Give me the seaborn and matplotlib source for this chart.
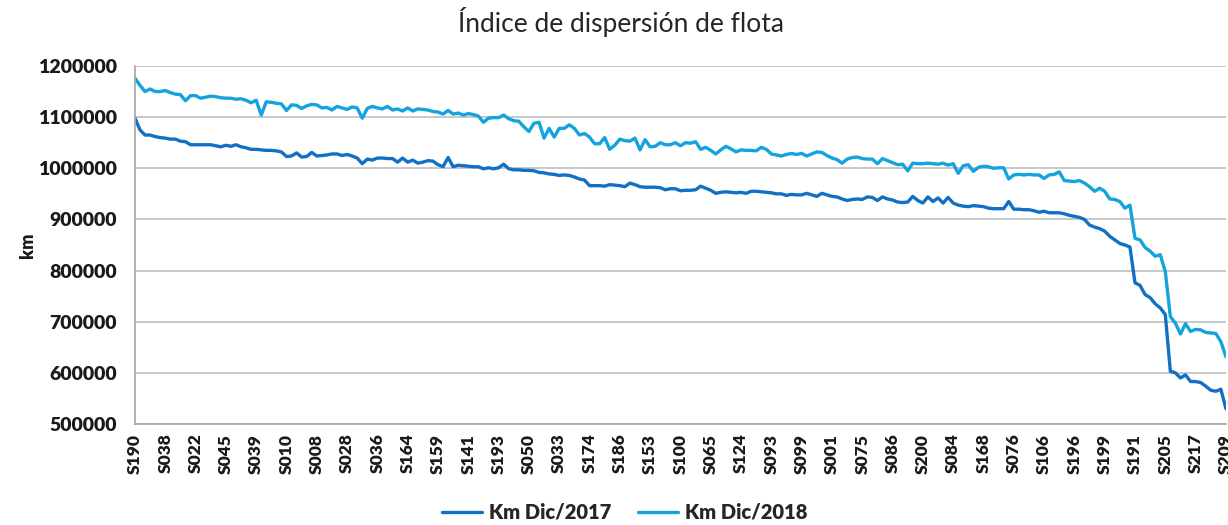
import pandas as pd
import numpy as np
import matplotlib.pyplot as plt
import seaborn as sns

# Etiquetas visibles del eje x (una cada 6 puntos)
etiquetas = ['S190', 'S038', 'S022', 'S045', 'S039', 'S010', 'S008', 'S028', 'S036',
             'S164', 'S159', 'S141', 'S193', 'S050', 'S033', 'S174', 'S186', 'S153',
             'S100', 'S065', 'S124', 'S093', 'S099', 'S001', 'S075', 'S086', 'S200',
             'S084', 'S168', 'S076', 'S106', 'S196', 'S199', 'S191', 'S205', 'S217', 'S209']

# km en miles
km_2017 = [1098, 1075, 1065, 1065, 1062, 1060, 1059, 1057, 1057, 1053,
           1052, 1046, 1046, 1046, 1046, 1046, 1044, 1042, 1045, 1043,
           1046, 1042, 1040, 1037, 1037, 1036, 1035, 1035, 1034, 1032,
           1023, 1024, 1030, 1022, 1023, 1031, 1024, 1025, 1026, 1028,
           1028, 1025, 1027, 1024, 1020, 1009, 1018, 1016, 1020, 1020,
           1019, 1019, 1012, 1020, 1012, 1016, 1010, 1012, 1015, 1014,
           1007, 1003, 1021, 1003, 1006, 1005, 1004, 1003, 1003, 999,
           1001, 999, 1001, 1008, 999, 997, 997, 996, 996, 995,
           992, 991, 989, 988, 986, 987, 986, 983, 979, 977,
           966, 966, 966, 965, 968, 967, 966, 964, 971, 968,
           964, 963, 963, 963, 962, 958, 960, 960, 956, 957,
           957, 958, 965, 961, 957, 951, 953, 954, 953, 952,
           953, 951, 955, 955, 954, 953, 952, 950, 950, 947,
           949, 948, 948, 951, 948, 945, 951, 948, 945, 944,
           940, 937, 939, 940, 939, 944, 943, 937, 944, 940,
           938, 934, 933, 934, 945, 937, 932, 944, 935, 942,
           932, 943, 932, 928, 926, 925, 927, 926, 925, 922,
           921, 921, 921, 935, 920, 920, 919, 919, 917, 914,
           916, 913, 913, 913, 911, 908, 906, 904, 900, 889,
           885, 882, 877, 867, 860, 853, 850, 846, 776, 771,
           753, 747, 735, 727, 714, 603, 600, 590, 596, 583,
           583, 581, 574, 566, 564, 568, 530]

km_2018 = [1176, 1162, 1150, 1155, 1150, 1150, 1152, 1148, 1145, 1144,
           1132, 1142, 1142, 1137, 1139, 1141, 1140, 1138, 1137, 1137,
           1135, 1136, 1133, 1128, 1133, 1104, 1130, 1129, 1127, 1126,
           1113, 1124, 1123, 1117, 1122, 1125, 1124, 1118, 1119, 1114,
           1121, 1118, 1115, 1120, 1118, 1098, 1117, 1121, 1118, 1116,
           1121, 1114, 1116, 1112, 1118, 1112, 1116, 1115, 1114, 1111,
           1110, 1106, 1113, 1106, 1108, 1104, 1107, 1105, 1102, 1090,
           1098, 1099, 1099, 1104, 1097, 1093, 1092, 1081, 1072, 1088,
           1090, 1059, 1078, 1061, 1078, 1078, 1085, 1078, 1065, 1068,
           1061, 1048, 1048, 1060, 1037, 1045, 1057, 1054, 1053, 1059,
           1036, 1056, 1042, 1043, 1050, 1046, 1046, 1050, 1044, 1050,
           1049, 1052, 1037, 1041, 1035, 1028, 1036, 1043, 1038, 1032,
           1036, 1035, 1035, 1034, 1041, 1037, 1028, 1026, 1024, 1027,
           1029, 1027, 1029, 1024, 1028, 1032, 1031, 1025, 1020, 1017,
           1010, 1018, 1021, 1022, 1019, 1018, 1018, 1009, 1019, 1015,
           1011, 1007, 1008, 995, 1010, 1009, 1009, 1010, 1009, 1008,
           1010, 1006, 1009, 990, 1005, 1007, 994, 1002, 1004, 1003,
           1000, 1001, 1001, 979, 987, 988, 987, 988, 987, 987,
           980, 987, 988, 993, 976, 975, 974, 976, 971, 964,
           955, 961, 955, 940, 939, 935, 922, 928, 863, 860,
           845, 838, 828, 831, 798, 710, 697, 676, 696, 681,
           685, 684, 679, 678, 677, 661, 632]

series = ['Km Dic/2017', 'Km Dic/2018']
colores = ['#1170C4', '#13A3DD']

n = len(km_2017)
df = pd.DataFrame({'punto': list(range(n)) * 2,
                   'km': [v * 1000 for v in km_2017 + km_2018],
                   'serie': [series[0]] * n + [series[1]] * n})

sns.set_theme(style='white')
plt.rcParams['font.family'] = ['Lato', 'DejaVu Sans']

fig = plt.figure(figsize=(12.28, 5.25), dpi=100)
ax = fig.add_axes([0.1099, 0.1924, 0.8884, 0.6819])

sns.lineplot(data=df, x='punto', y='km', hue='serie', palette=colores,
             linewidth=2.4, ax=ax)

ax.set_xlim(0, n - 1)
ax.set_ylim(500000, 1200000)
ax.set_yticks(range(500000, 1200001, 100000))
ax.set_yticklabels([str(v) for v in range(500000, 1200001, 100000)],
                   fontsize=14, fontweight='heavy', color='#1a1a1a')
ax.set_xticks(range(0, n, 6))
ax.set_xticklabels(etiquetas, rotation=90, fontsize=12.5, fontweight='heavy',
                   color='#1a1a1a')
ax.tick_params(axis='x', length=0, pad=7)
ax.tick_params(axis='y', length=0, pad=13)
ax.grid(axis='y', color='#BFBFBF', linewidth=1.2)
ax.set_axisbelow(True)
for s in ['top', 'right']:
    ax.spines[s].set_visible(False)
for s in ['left', 'bottom']:
    ax.spines[s].set_color('#A6A6A6')
    ax.spines[s].set_linewidth(1.2)
ax.set_xlabel('')
ax.set_ylabel('')

fig.text(0.506, 0.958, 'Índice de dispersión de flota', ha='center', va='center',
         fontsize=19, color='#262626')
fig.text(28 / 1228, 1 - 245 / 525, 'km', rotation=90, ha='center', va='center',
         fontsize=13, fontweight='heavy', color='#1a1a1a')

sns.move_legend(ax, 'center', bbox_to_anchor=(0.449, -0.246), ncol=2, title=None,
                frameon=False, prop={'weight': 'heavy', 'size': 14.5},
                handlelength=2.0, columnspacing=1.3, handletextpad=0.35)

fig.savefig('out.png', dpi=100)
